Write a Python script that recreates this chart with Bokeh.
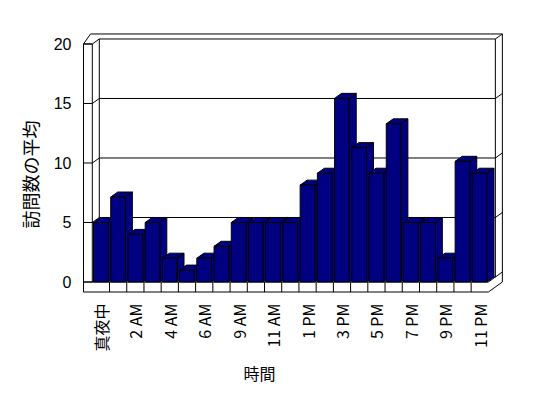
import math
from bokeh.plotting import figure
from bokeh.models import Range1d, FixedTicker, Title
from bokeh.embed import file_html
from bokeh.resources import INLINE

# ---- data ----
hours = ["真夜中", "1 AM", "2 AM", "3 AM", "4 AM", "5 AM", "6 AM", "8 AM",
         "9 AM", "10 AM", "11 AM", "正午", "1 PM", "2 PM", "3 PM", "4 PM",
         "5 PM", "6 PM", "7 PM", "8 PM", "9 PM", "10 PM", "11 PM"]
visits = [5, 7.14, 4, 5, 2, 1, 2, 3, 5, 5, 5, 5,
          8.14, 9.14, 15.43, 11.29, 9.14, 13.29, 5, 5, 2, 10.14, 9.14]
y_ticks = [0, 5, 10, 15, 20]
shown_idx = list(range(0, len(hours), 2))
x_title = "時間"
y_title = "訪問数の平均"

# ---- geometry (3D look) ----
N = len(hours)
U0, U1 = -0.5, N - 0.5          # front plane category extent
DU, DV = 0.4065, 0.42           # depth offset
WT, FT = 0.511, 0.84            # wall / floor thickness
VMAX = y_ticks[-1]
BL, BR = -0.43, 0.42            # bar front edges relative to category centre

NAVY = "#000080"

p = figure(width=540, height=390, output_backend="svg", toolbar_location=None,
           x_range=Range1d(-1.3014, 23.553), y_range=Range1d(-1.218, 21.30),
           min_border_left=78, min_border_right=34, min_border_top=28,
           min_border_bottom=94)
p.background_fill_color = "white"
p.border_fill_color = "white"
p.outline_line_color = None
p.xgrid.visible = False
p.ygrid.visible = False

# ---- box lines ----
xs, ys = [], []
def seg(pts):
    xs.append([q[0] for q in pts])
    ys.append([q[1] for q in pts])

seg([(U0 - WT, -FT), (U0 - WT, VMAX), (U0 - WT + DU, VMAX + 2 * DV),
     (U1 + 2 * DU, VMAX + 2 * DV), (U1 + 2 * DU, -FT + 2 * DV), (U1, -FT), (U0 - WT, -FT)])
seg([(U0, 0), (U0, VMAX)])
seg([(U0 - WT, VMAX), (U0, VMAX), (U0 + DU, VMAX + DV)])
seg([(U0 + DU, DV), (U0 + DU, VMAX + DV), (U1 + DU, VMAX + DV), (U1 + DU, DV)])
seg([(U1 + DU, VMAX + DV), (U1 + 2 * DU, VMAX + 2 * DV)])
seg([(U0 - WT, 0), (U1, 0), (U1 + DU, DV), (U1 + 2 * DU, 2 * DV)])
seg([(U0, 0), (U0 + DU, DV), (U1 + DU, DV)])
for k in range(1, N):
    seg([(U0 + k, 0), (U0 + k, -FT)])
for t in y_ticks:
    seg([(U0 - WT, t), (U0, t)])
for t in y_ticks[1:-1]:
    seg([(U0, t), (U0 + DU, t + DV), (U1 + DU, t + DV), (U1 + 2 * DU, t + 2 * DV)])
p.multi_line(xs=xs, ys=ys, line_color="black", line_width=1)

# ---- bars: sides and tops (painter order), then fronts ----
pxs, pys = [], []
for i, v in enumerate(visits):
    r = i + BR
    l = i + BL
    pxs.append([r, r + DU, r + DU, r])
    pys.append([0, DV, v + DV, v])
    pxs.append([l, r, r + DU, l + DU])
    pys.append([v, v, v + DV, v + DV])
p.patches(xs=pxs, ys=pys, fill_color=NAVY, line_color="black", line_width=1)
p.quad(left=[i + BL for i in range(N)], right=[i + BR for i in range(N)],
       bottom=0, top=visits, fill_color=NAVY, line_color="black", line_width=1)

# ---- axes ----
ya = p.yaxis[0]
ya.ticker = FixedTicker(ticks=y_ticks)
ya.axis_line_color = None
ya.major_tick_line_color = None
ya.minor_tick_line_color = None
ya.major_tick_out = 0
ya.major_label_standoff = 7
ya.major_label_text_font = "Liberation Sans"
ya.major_label_text_font_size = "16px"
ya.major_label_text_color = "black"

xa = p.xaxis[0]
xa.ticker = FixedTicker(ticks=shown_idx)
xa.major_label_overrides = {i: hours[i] for i in shown_idx}
xa.major_label_orientation = math.pi / 2
xa.axis_line_color = None
xa.major_tick_line_color = None
xa.minor_tick_line_color = None
xa.major_tick_out = 0
xa.major_label_standoff = 7
xa.major_label_text_font = "Noto Sans CJK JP"
xa.major_label_text_font_size = "16px"
xa.major_label_text_color = "black"

# ---- titles ----
p.add_layout(Title(text=x_title, align="left", offset=165, standoff=8,
                   text_font="Noto Sans CJK JP", text_font_size="16px",
                   text_font_style="normal", text_color="black"), "below")
p.add_layout(Title(text=y_title, align="left", offset=68, standoff=16,
                   text_font="Noto Sans CJK JP", text_font_size="18px",
                   text_font_style="normal", text_color="black"), "left")

open("out.html", "w").write(file_html(p, INLINE))
